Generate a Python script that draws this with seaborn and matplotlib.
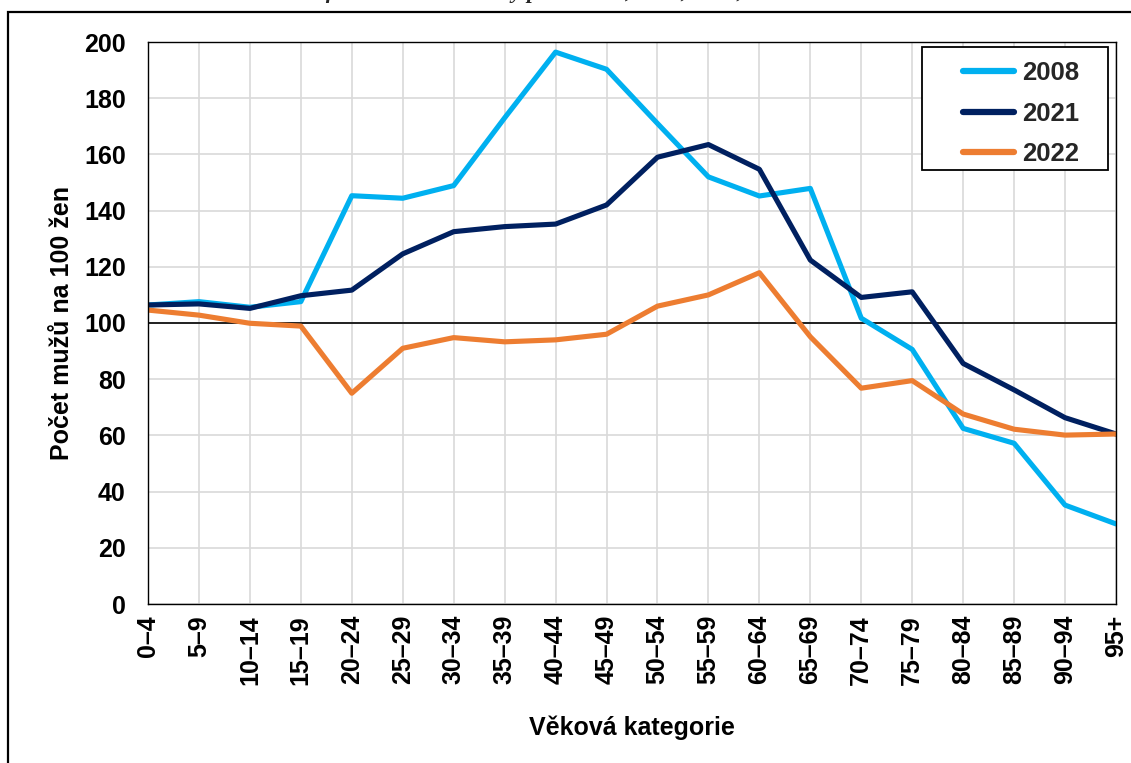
import numpy as np
import pandas as pd
import matplotlib
matplotlib.use("Agg")
import matplotlib.pyplot as plt
import seaborn as sns
from matplotlib.patches import Rectangle

categories = ["0–4", "5–9", "10–14", "15–19", "20–24", "25–29", "30–34", "35–39",
              "40–44", "45–49", "50–54", "55–59", "60–64", "65–69", "70–74",
              "75–79", "80–84", "85–89", "90–94", "95+"]
v2008 = [106.4, 107.6, 105.6, 107.6, 145.3, 144.4, 148.9, 173.0, 196.4, 190.3,
         171.0, 152.0, 145.2, 147.9, 101.7, 90.6, 62.5, 57.2, 35.2, 28.5]
v2021 = [106.4, 106.8, 105.2, 109.7, 111.7, 124.6, 132.5, 134.3, 135.2, 142.0,
         159.0, 163.5, 154.7, 122.4, 109.1, 111.1, 85.6, 76.2, 66.3, 60.5]
v2022 = [104.6, 102.8, 99.9, 98.9, 75.0, 91.0, 94.8, 93.3, 94.0, 96.0,
         106.0, 110.0, 117.9, 95.1, 76.8, 79.5, 67.6, 62.2, 60.1, 60.5]
years = ["2008", "2021", "2022"]
colors = ["#00B0F0", "#002060", "#ED7D31"]
yticks = list(range(0, 201, 20))

sns.set_theme(style="whitegrid")
plt.rcParams['font.family'] = ['Liberation Sans', 'DejaVu Sans']
plt.rcParams['font.weight'] = 'bold'

df = pd.DataFrame({
    "kategorie": categories * 3,
    "hodnota": v2008 + v2021 + v2022,
    "rok": np.repeat(years, len(categories)),
})

W, H = 1131, 763
fig = plt.figure(figsize=(W / 100, H / 100), dpi=100)
fig.patch.set_facecolor("white")
ax = fig.add_axes([148 / W, 1 - 604 / H, 968 / W, 562 / H])
ax.set_facecolor("white")

sns.lineplot(data=df, x="kategorie", y="hodnota", hue="rok",
             palette=dict(zip(years, colors)), linewidth=3.7, sort=False,
             ax=ax, legend=True)

ax.axhline(100, color="black", linewidth=1.2, zorder=1.5)
ax.set_xlim(0, len(categories) - 1)
ax.set_ylim(0, 200)
ax.set_yticks(yticks)
ax.set_xticks(range(len(categories)))
ax.set_xticklabels(categories, rotation=90, fontsize=18, fontweight="bold")
ax.set_yticklabels([str(t) for t in yticks], fontsize=18, fontweight="bold")
ax.tick_params(axis="y", length=0, pad=16, colors="black")
ax.tick_params(axis="x", length=0, pad=8, colors="black")
ax.grid(True, color="#d9d9d9", linewidth=1.2)
for s in ax.spines.values():
    s.set_color("black")
    s.set_linewidth(1.0)

ax.set_ylabel("Počet mužů na 100 žen", fontsize=18, fontweight="bold",
              color="black", labelpad=7)
ax.set_xlabel("Věková kategorie", fontsize=18, fontweight="bold",
              color="black", labelpad=22)

handles, labels = ax.get_legend_handles_labels()
leg = ax.legend(handles, labels, frameon=False, loc="upper left",
                bbox_to_anchor=(950 / W, 1 - 48 / H), bbox_transform=fig.transFigure,
                prop={"size": 18.5, "weight": "bold"}, handlelength=2.0,
                handletextpad=0.3, borderpad=0, labelspacing=0.65)
leg.set_zorder(6)
for lh in leg.get_lines():
    lh.set_linewidth(4.5)
    lh.set_solid_capstyle("round")

frame = Rectangle((922 / W, 1 - 170 / H), (1108 - 922) / W, 123 / H,
                  transform=fig.transFigure, facecolor="white", edgecolor="black",
                  linewidth=1.3, zorder=5.5, clip_on=False)
ax.add_patch(frame)

# outer border of the graphic
fig.add_artist(Rectangle((8 / W, -0.1), 1.2, 1 - 12 / H + 0.1,
                         transform=fig.transFigure, fill=False,
                         edgecolor="black", linewidth=1.6))

# title line above the graphic, cut off at the top edge as in the reference
fig.text(290 / W, 1 + 2 / H, "Graf 3 Index maskulinity podle věku, 2008, 2021, 2022",
         fontsize=16, fontstyle="italic", fontweight="bold",
         family=["Liberation Serif", "DejaVu Serif"], va="baseline", ha="left")

fig.savefig("out.png", dpi=100, facecolor="white")
